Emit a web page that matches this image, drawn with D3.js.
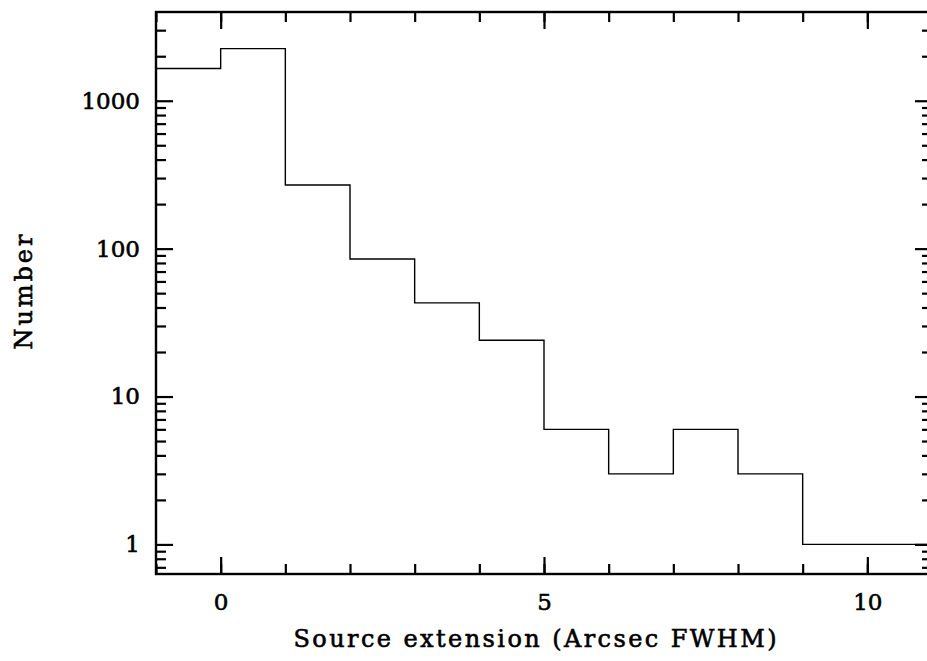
<!DOCTYPE html>
<html>
<head>
<meta charset="utf-8">
<script src="https://cdn.jsdelivr.net/npm/d3@7"></script>
<style>
  body { margin: 0; background: #fff; }
  svg text { font-family: "DejaVu Serif", serif; font-weight: normal; fill: #000; stroke: #000; stroke-width: 0.6; }
</style>
</head>
<body>
<div id="chart"></div>
<script>

// histogram bins (left edges, width 1 arcsec) and counts
var binEdges = [-1, 0, 1, 2, 3, 4, 5, 6, 7, 8, 9, 10, 11];
var counts   = [1650, 2250, 269, 85, 43, 24, 6, 3, 6, 3, 1, 1];

var xMajor = [0, 5, 10];
var xMinor = [-1, 0, 1, 2, 3, 4, 5, 6, 7, 8, 9, 10, 11];
var yMajor = [1, 10, 100, 1000];
var yMajorLabels = ["1", "10", "100", "1000"];

var width = 927, height = 661;
var margin = {top: 12, right: -5, bottom: 87, left: 156};

var svg = d3.select("#chart").append("svg")
	.attr("width", width)
	.attr("height", height);

var x = d3.scaleLinear()
	.domain([-1, 11])
	.range([margin.left, width - margin.right]);

var y = d3.scaleLog()
	.domain([Math.pow(10, -0.2), Math.pow(10, 3.6)])
	.range([height - margin.bottom, margin.top]);

// minor log ticks: 2..9 in each decade
var yMinor = [];
for (var d = 0.1; d <= 1000; d *= 10) {
	for (var k = 2; k <= 9; k++) {
		var v = +(k * d).toPrecision(3);
		if (v > y.domain()[0] && v < y.domain()[1]) yMinor.push(v);
	}
}

svg.append("clipPath").attr("id", "plotclip")
	.append("rect")
	.attr("x", x.range()[0]).attr("y", y.range()[1])
	.attr("width", x.range()[1] - x.range()[0])
	.attr("height", y.range()[0] - y.range()[1]);

// step histogram
var pts = binEdges.map(function(e, i) {
	return [e, counts[Math.min(i, counts.length - 1)]];
});
var line = d3.line()
	.x(function(d) { return x(d[0]); })
	.y(function(d) { return y(d[1]); })
	.curve(d3.curveStepAfter);

svg.append("path")
	.attr("clip-path", "url(#plotclip)")
	.attr("d", line(pts))
	.attr("fill", "none")
	.attr("stroke", "#000")
	.attr("stroke-width", 1.4);

// axes (ticks pointing inwards)
function styleAxis(g) {
	g.select(".domain").remove();
	g.selectAll(".tick line").attr("stroke", "#000").attr("stroke-width", 2.2);
	g.selectAll("text").attr("font-size", 23).attr("fill", "#000")
		.style("font-family", "DejaVu Serif");
}

var yb = y.range()[0], yt = y.range()[1];
var xl = x.range()[0], xr = x.range()[1];

svg.append("g").attr("transform", "translate(0," + yb + ")")
	.call(d3.axisBottom(x).tickValues(xMinor).tickSize(-10).tickFormat(""))
	.call(styleAxis);
svg.append("g").attr("transform", "translate(0," + yb + ")")
	.call(d3.axisBottom(x).tickValues(xMajor).tickSize(-17).tickPadding(20).tickFormat(d3.format("d")))
	.call(styleAxis);

svg.append("g").attr("transform", "translate(0," + yt + ")")
	.call(d3.axisTop(x).tickValues(xMinor).tickSize(-10).tickFormat(""))
	.call(styleAxis);
svg.append("g").attr("transform", "translate(0," + yt + ")")
	.call(d3.axisTop(x).tickValues(xMajor).tickSize(-17).tickFormat(""))
	.call(styleAxis);

svg.append("g").attr("transform", "translate(" + xl + ",0)")
	.call(d3.axisLeft(y).tickValues(yMinor).tickSize(-10).tickFormat(""))
	.call(styleAxis);
svg.append("g").attr("transform", "translate(" + xl + ",0)")
	.call(d3.axisLeft(y).tickValues(yMajor).tickSize(-17).tickPadding(16)
		.tickFormat(function(d, i) { return yMajorLabels[i]; }))
	.call(styleAxis);

svg.append("g").attr("transform", "translate(" + xr + ",0)")
	.call(d3.axisRight(y).tickValues(yMinor).tickSize(-10).tickFormat(""))
	.call(styleAxis);
svg.append("g").attr("transform", "translate(" + xr + ",0)")
	.call(d3.axisRight(y).tickValues(yMajor).tickSize(-17).tickFormat(""))
	.call(styleAxis);

// frame
svg.append("rect")
	.attr("x", xl).attr("y", yt)
	.attr("width", xr - xl).attr("height", yb - yt)
	.attr("fill", "none")
	.attr("stroke", "#000")
	.attr("stroke-width", 2.4);

// axis titles
svg.append("text")
	.attr("x", 535).attr("y", 647)
	.attr("text-anchor", "middle")
	.attr("font-size", 24)
	.attr("textLength", 483)
	.attr("lengthAdjust", "spacing")
	.text("Source extension (Arcsec FWHM)");

svg.append("text")
	.attr("transform", "translate(32,292) rotate(-90)")
	.attr("text-anchor", "middle")
	.attr("font-size", 24)
	.attr("textLength", 115)
	.attr("lengthAdjust", "spacing")
	.text("Number");

</script>
</body>
</html>
